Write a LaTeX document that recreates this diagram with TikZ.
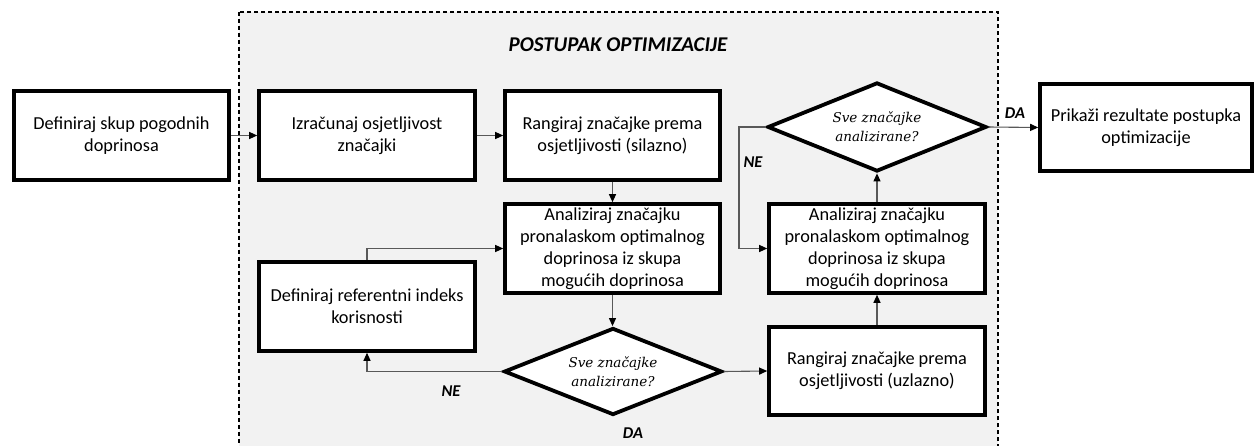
\documentclass[tikz,border=0pt]{standalone}
\usepackage{fontspec}
\newfontfamily\calfont{Carlito}
\newfontfamily\decfont{DejaVu Serif}
\usetikzlibrary{arrows.meta,shapes.geometric}
\begin{document}
\begin{tikzpicture}[x=1pt,y=-1pt,
  box/.style={draw=black, line width=3.6pt, fill=white, minimum width=215pt, minimum height=89pt, align=center, inner sep=2pt, font=\calfont\fontsize{18.3}{22}\selectfont},
  dec/.style={diamond, draw=black, line width=3.8pt, fill=white, aspect=2.4, minimum width=218pt, minimum height=87pt, inner sep=0pt, align=center, font=\decfont\itshape\fontsize{13.5}{19}\selectfont},
  conn/.style={draw=black!65, line width=1.1pt, -{Triangle[length=8pt,width=7pt,color=black]}},
  lab/.style={font=\calfont\bfseries\itshape\fontsize{16.5}{18}\selectfont},
  ttl/.style={font=\calfont\bfseries\itshape\fontsize{21}{24}\selectfont},
  region/.style={draw=black, line width=1.2pt, dash pattern=on 4pt off 3pt, fill=black!5}
]
\useasboundingbox (0,0) rectangle (1256,446);
\clip (0,0) rectangle (1256,446);
\fill[white] (0,0) rectangle (1256,446);
\draw[region] (239,12) rectangle (998,470);
\node[ttl] (title) at (618,45) {POSTUPAK OPTIMIZACIJE};

\node[box] (b1) at (121.5,135.5) {Definiraj skup pogodnih\\doprinosa};
\node[box, minimum width=216pt] (b2) at (367,135.5) {Izračunaj osjetljivost\\značajki};
\node[box] (b3) at (612.5,135.5) {Rangiraj značajke prema\\osjetljivosti (silazno)};
\node[box] (b4) at (612.5,248.5) {Analiziraj značajku\\pronalaskom optimalnog\\doprinosa iz skupa\\mogućih doprinosa};
\node[box, minimum width=216pt] (b5) at (367,306.5) {Definiraj referentni indeks\\korisnosti};
\node[dec] (d1) at (613,371.5) {Sve značajke\\analizirane?};
\node[box, minimum width=216pt, minimum height=88pt] (b6) at (877,371) {Rangiraj značajke prema\\osjetljivosti (uzlazno)};
\node[box, minimum width=216pt] (b7) at (877,248.5) {Analiziraj značajku\\pronalaskom optimalnog\\doprinosa iz skupa\\mogućih doprinosa};
\node[dec, minimum width=219pt, minimum height=89pt] (d2) at (877,127) {Sve značajke\\analizirane?};
\node[box, minimum width=212pt, minimum height=87pt] (b8) at (1146,127.5) {Prikaži rezultate postupka\\optimizacije};

\coordinate (ne2) at (739,127);

\draw[conn] (b1.east) -- (b2.west);
\draw[conn] (b2.east) -- (b3.west);
\draw[conn] (b3.south) -- (b4.north);
\draw[conn] (b4.south) -- (b4.south |- d1.north);
\draw[conn] (d1.west) -| (b5.south);
\draw[conn] (b5.north) |- (b4.west);
\draw[conn] (d1.east) -- (b6.west);
\draw[conn] (b6.north) -- (b7.south);
\draw[conn] (b7.north) -- (d2.south);
\draw[conn] (d2.west) -- (ne2) |- (b7.west);
\draw[conn] (d2.east) -- (b8.west);

\node[lab] (ne1) at (451,391) {NE};
\node[lab] (da1) at (633,433) {DA};
\node[lab] (nel) at (753,162) {NE};
\node[lab] (da2) at (1015,113) {DA};
\end{tikzpicture}
\end{document}
